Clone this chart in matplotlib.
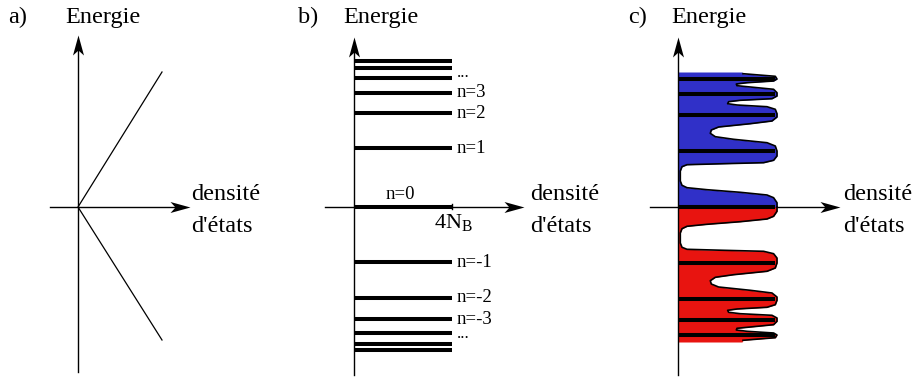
import matplotlib.pyplot as plt
from matplotlib.path import Path

plt.rcParams['font.family'] = 'serif'
plt.rcParams['font.serif'] = ['Liberation Serif', 'Times New Roman', 'DejaVu Serif']
plt.rcParams['mathtext.fontset'] = 'custom'
plt.rcParams['mathtext.rm'] = 'Liberation Serif'

# all values in drawing units (1 unit = 1 px), energy up, density to the right

# a) graphene without field: linear density of states
dos_a = [84, 0, 84]
energy_a = [-133, 0, 135]

# b) Landau levels
levels_up = [0, 58.7, 93.7, 114.3, 128.7, 139.3, 146.3]
levels_down = [-55.3, -90.7, -112.0, -126.3, -137.3, -143.0]
bar_length = 98
labels_b = ['n=1', 'n=2', 'n=3', 'n=-1', 'n=-2', 'n=-3']
labels_b_energy = [58.7, 93.7, 114.3, -55.3, -90.7, -112.0]

# c) broadened levels, upper half traced (the lower half is its mirror)
trace_e = [0, 4.3, 9.3, 12, 14.7, 17.3, 19.3, 21.7, 26, 36, 40.3, 42.3, 43.3, 44.3,
           46.7, 51, 56, 61, 64.3, 67.7, 70.3, 73.7, 77, 80, 83.3, 86, 90, 93.3,
           97.7, 100.3, 102, 103.3, 105.3, 106.7, 108.3, 111, 114.3, 117.7, 120,
           121.3, 123, 124.3, 126, 128, 130.7, 132.7, 133.3, 135]
trace_d = [99, 99, 95.6, 89, 62.3, 29, 9, 4, 2.3, 2.3, 4, 9, 45.6, 85.6,
           95.6, 99, 99, 97.3, 89, 55.6, 37.3, 32.3, 33.3, 40.6, 72.3, 94, 99, 99,
           97.3, 89, 59, 49.6, 50.6, 62.3, 94, 99, 99, 95.6, 72.3,
           59, 58.3, 69, 95.6, 99, 97.3, 72.3, 65, 64]
levels_c = [0, 56, 92, 113, 128]

blue = '#3030c8'
red = '#e81410'
fs = 17.5

# notched arrow heads, tip at the marker origin
head_right = Path([(0, 0), (-2, 0.55), (-1.5, 0), (-2, -0.55), (0, 0)],
                  [Path.MOVETO, Path.LINETO, Path.LINETO, Path.LINETO, Path.CLOSEPOLY])
head_up = Path([(0, 0), (0.55, -2), (0, -1.5), (-0.55, -2), (0, 0)],
               [Path.MOVETO, Path.LINETO, Path.LINETO, Path.LINETO, Path.CLOSEPOLY])


def draw_axes(ax, x_left, x_tip, e_bottom, e_tip):
    ax.plot([x_left, x_tip - 6], [0, 0], color='black', lw=1.0, zorder=1)
    ax.plot([0, 0], [e_bottom, e_tip - 6], color='black', lw=1.0, zorder=5)
    ax.plot([x_tip], [0], marker=head_right, ms=28.8, color='black', mew=0, zorder=6)
    ax.plot([0], [e_tip], marker=head_up, ms=28.8, color='black', mew=0, zorder=6)


def label_axes(ax, letter, x_letter, x_energie, x_dens):
    ax.text(x_letter, 184, letter, fontsize=fs, va='baseline')
    ax.text(x_energie, 184, 'Energie', fontsize=fs, va='baseline')
    ax.text(x_dens, 7, 'densité', fontsize=fs, va='baseline')
    ax.text(x_dens, -25, "d'états", fontsize=fs, va='baseline')


fig = plt.figure(figsize=(9.2, 3.8), dpi=100)
ax_a = fig.add_axes([0, 0, 300 / 920, 1])
ax_b = fig.add_axes([300 / 920, 0, 300 / 920, 1])
ax_c = fig.add_axes([600 / 920, 0, 320 / 920, 1])
ax_a.set_xlim(-78, 222)
ax_b.set_xlim(-54, 246)
ax_c.set_xlim(-78, 242)
for ax in (ax_a, ax_b, ax_c):
    ax.set_ylim(-173, 207)
    ax.axis('off')

# a)
draw_axes(ax_a, -28, 112, -165, 172)
ax_a.plot(dos_a, energy_a, color='black', lw=0.9)
label_axes(ax_a, 'a)', -70, -13, 113)

# b)
draw_axes(ax_b, -29, 170, -168, 170)
for e in levels_up + levels_down:
    ax_b.plot([0, bar_length], [e, e], color='black', lw=2.9, solid_capstyle='butt', zorder=3)
ax_b.plot([bar_length, bar_length], [-2, 3], color='black', lw=1.0)
for lab, e in zip(labels_b, labels_b_energy):
    ax_b.text(bar_length + 5, e, lab, fontsize=13.5, va='center')
ax_b.text(bar_length + 5, levels_up[4] + 1.5, '...', fontsize=12, va='baseline')
ax_b.text(bar_length + 5, levels_down[3] - 5, '...', fontsize=12, va='baseline')
ax_b.text(46, 8, 'n=0', fontsize=13.5, ha='center', va='baseline')
ax_b.text(80, -5, r'4N$_\mathrm{B}$', fontsize=16, va='top')
label_axes(ax_b, 'b)', -56, -11, 176)

# c)
draw_axes(ax_c, -28, 162, -168, 170)
trace_e_down = [-e for e in trace_e]
ax_c.fill_betweenx(trace_e, 0, trace_d, color=blue, lw=0, zorder=2)
ax_c.fill_betweenx(trace_e_down, 0, trace_d, color=red, lw=0, zorder=2)
ax_c.plot(trace_d[:-1], trace_e[:-1], color='black', lw=1.2, zorder=3,
          solid_joinstyle='round')
ax_c.plot(trace_d[:-1], trace_e_down[:-1], color='black', lw=1.2, zorder=3,
          solid_joinstyle='round')
for e in levels_c:
    ax_c.plot([0, 97], [e, e], color='black', lw=2.9, solid_capstyle='butt', zorder=4)
    ax_c.plot([0, 97], [-e, -e], color='black', lw=2.9, solid_capstyle='butt', zorder=4)
label_axes(ax_c, 'c)', -50, -7, 165)

fig.savefig('out.png', dpi=100)
